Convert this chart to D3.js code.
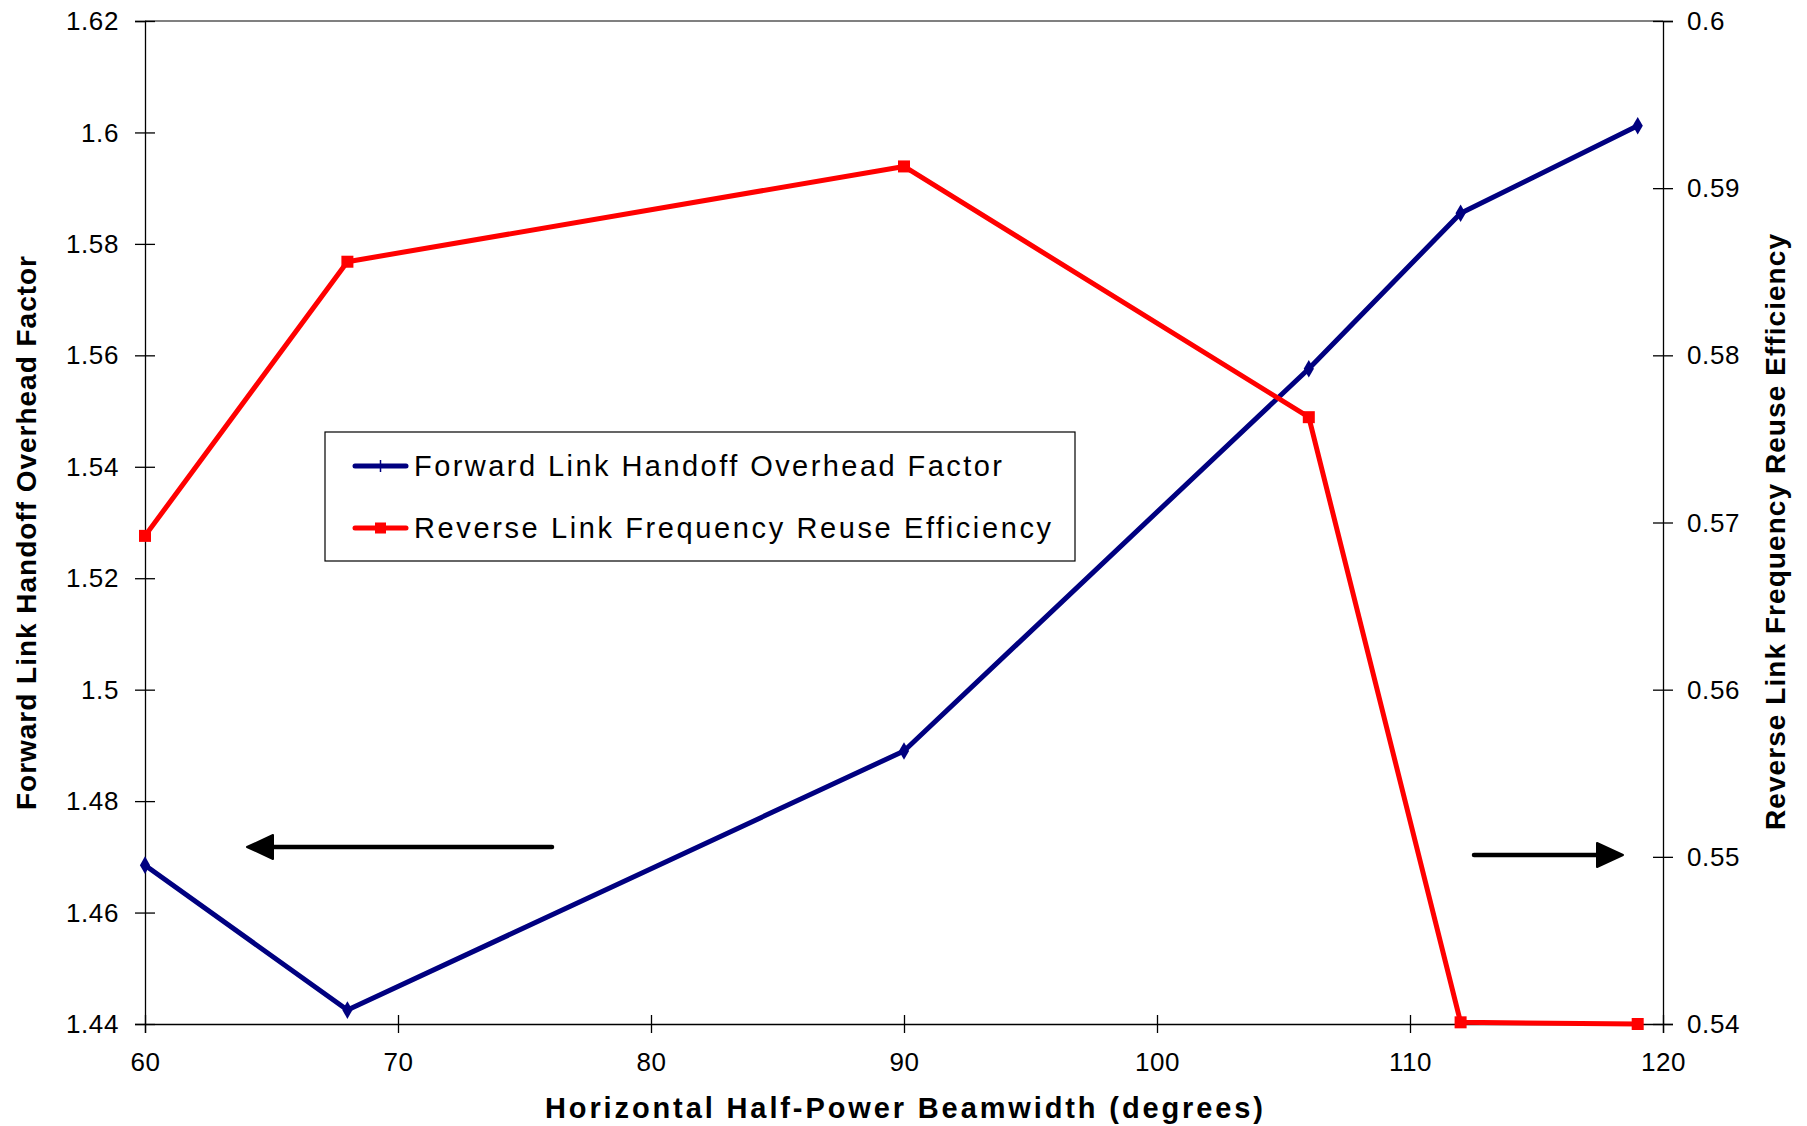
<!DOCTYPE html>
<html>
<head>
<meta charset="utf-8">
<script src="https://cdn.jsdelivr.net/npm/d3@7"></script>
<style>
  html, body { margin: 0; padding: 0; background: #fff; }
  svg text { font-family: "Liberation Sans", Arial, sans-serif; fill: #000; }
</style>
</head>
<body>
<svg id="chart" width="1807" height="1126"></svg>
<script>
// Beamwidth sweep (degrees)
const beamwidth = [60, 68, 90, 106, 112, 119];
// Forward link handoff overhead factor (left axis)
const forwardOverhead = [1.4685, 1.4425, 1.489, 1.5576, 1.5855, 1.6012];
// Reverse link frequency reuse efficiency (right axis)
const reverseEfficiency = [0.5692, 0.5856, 0.5913, 0.5763, 0.5401, 0.5400];

const xTicks = [60, 70, 80, 90, 100, 110, 120];
const leftTicks = [1.44, 1.46, 1.48, 1.5, 1.52, 1.54, 1.56, 1.58, 1.6, 1.62];
const rightTicks = [0.54, 0.55, 0.56, 0.57, 0.58, 0.59, 0.6];

const seriesNames = ["Forward Link Handoff Overhead Factor", "Reverse Link Frequency Reuse Efficiency"];
const xTitle = "Horizontal Half-Power Beamwidth (degrees)";
const leftTitle = "Forward Link Handoff Overhead Factor";
const rightTitle = "Reverse Link Frequency Reuse Efficiency";

const svg = d3.select("#chart");
const plot = { left: 145, right: 1663, top: 21, bottom: 1024 };

const x = d3.scaleLinear().domain([60, 120]).range([plot.left, plot.right]);
const yL = d3.scaleLinear().domain([1.44, 1.62]).range([plot.bottom, plot.top]);
const yR = d3.scaleLinear().domain([0.54, 0.6]).range([plot.bottom, plot.top]);

const fmt = d => String(+d.toFixed(2));
const FONT = "'Liberation Sans', Arial, sans-serif";

// plot frame top edge
svg.append("line")
  .attr("x1", plot.left).attr("x2", plot.right)
  .attr("y1", plot.top).attr("y2", plot.top)
  .attr("stroke", "#808080").attr("stroke-width", 2);

// left axis
const gL = svg.append("g").attr("transform", `translate(${plot.left},0)`)
  .call(d3.axisLeft(yL).tickValues(leftTicks).tickFormat(fmt).tickSize(10).tickPadding(16));
gL.selectAll(".tick line").attr("x1", 10);
gL.selectAll(".tick text").attr("font-size", 26).attr("dy", "0.33em")
  .style("font-family", FONT).attr("letter-spacing", 0.6);

// right axis
const gR = svg.append("g").attr("transform", `translate(${plot.right},0)`)
  .call(d3.axisRight(yR).tickValues(rightTicks).tickFormat(fmt).tickSize(10).tickPadding(14));
gR.selectAll(".tick line").attr("x1", -10);
gR.selectAll(".tick text").attr("font-size", 26).attr("dy", "0.33em")
  .style("font-family", FONT).attr("letter-spacing", 0.6);

// bottom axis
const gX = svg.append("g").attr("transform", `translate(0,${plot.bottom})`)
  .call(d3.axisBottom(x).tickValues(xTicks).tickFormat(d => d).tickSize(9).tickPadding(20));
gX.selectAll(".tick line").attr("y1", -9);
gX.selectAll(".tick text").attr("font-size", 26).attr("dy", "0.71em")
  .style("font-family", FONT).attr("letter-spacing", 0.6);

[gL, gR, gX].forEach(g => {
  g.select(".domain").attr("stroke", "#000").attr("stroke-width", 1.3);
  g.selectAll(".tick line").attr("stroke", "#000").attr("stroke-width", 1.3);
});

// axis titles
svg.append("text")
  .attr("x", 904).attr("y", 1118)
  .attr("text-anchor", "middle")
  .attr("font-size", 29).attr("font-weight", "bold")
  .attr("textLength", 718).attr("lengthAdjust", "spacing")
  .text(xTitle);

svg.append("text")
  .attr("transform", "translate(36,533) rotate(-90)")
  .attr("text-anchor", "middle")
  .attr("font-size", 28).attr("font-weight", "bold")
  .attr("textLength", 554).attr("lengthAdjust", "spacing")
  .text(leftTitle);

svg.append("text")
  .attr("transform", "translate(1785,532) rotate(-90)")
  .attr("text-anchor", "middle")
  .attr("font-size", 28).attr("font-weight", "bold")
  .attr("textLength", 596).attr("lengthAdjust", "spacing")
  .text(rightTitle);

// series lines
const fwdData = beamwidth.map((b, i) => [b, forwardOverhead[i]]);
const revData = beamwidth.map((b, i) => [b, reverseEfficiency[i]]);

svg.append("path")
  .datum(fwdData)
  .attr("fill", "none").attr("stroke", "#000080").attr("stroke-width", 5)
  .attr("stroke-linejoin", "round")
  .attr("d", d3.line().x(d => x(d[0])).y(d => yL(d[1])));

svg.append("path")
  .datum(revData)
  .attr("fill", "none").attr("stroke", "#ff0000").attr("stroke-width", 5)
  .attr("stroke-linejoin", "round")
  .attr("d", d3.line().x(d => x(d[0])).y(d => yR(d[1])));

// markers
svg.append("g").selectAll("path")
  .data(fwdData).join("path")
  .attr("transform", d => `translate(${x(d[0])},${yL(d[1])})`)
  .attr("d", d3.symbol(d3.symbolDiamond, 90))
  .attr("fill", "#000080");

svg.append("g").selectAll("rect")
  .data(revData).join("rect")
  .attr("x", d => x(d[0]) - 6).attr("y", d => yR(d[1]) - 6)
  .attr("width", 12).attr("height", 12)
  .attr("fill", "#ff0000");

// direction arrows pointing to each series' axis
function arrow(x1, x2, yv) {
  const dir = Math.sign(x2 - x1);
  const base = x2 - dir * 26;
  svg.append("line")
    .attr("x1", x1).attr("x2", base).attr("y1", yv).attr("y2", yv)
    .attr("stroke", "#000").attr("stroke-width", 4.5).attr("stroke-linecap", "round");
  svg.append("path")
    .attr("d", `M${x2},${yv} L${base},${yv - 12} L${base},${yv + 12} Z`)
    .attr("fill", "#000").attr("stroke", "#000").attr("stroke-width", 2)
    .attr("stroke-linejoin", "round");
}
arrow(552, 247, 847);
arrow(1474, 1623, 855);

// legend
const legend = svg.append("g");
legend.append("rect")
  .attr("x", 325).attr("y", 432).attr("width", 750).attr("height", 129)
  .attr("fill", "#fff").attr("stroke", "#000").attr("stroke-width", 1.2);

const rows = [
  { name: seriesNames[0], color: "#000080", y: 466, len: 588 },
  { name: seriesNames[1], color: "#ff0000", y: 528, len: 637 }
];
rows.forEach((r, i) => {
  legend.append("line")
    .attr("x1", 355).attr("x2", 406).attr("y1", r.y).attr("y2", r.y)
    .attr("stroke", r.color).attr("stroke-width", 5).attr("stroke-linecap", "round");
  if (i === 0) {
    legend.append("line")
      .attr("x1", 380.5).attr("x2", 380.5).attr("y1", r.y - 6).attr("y2", r.y + 6)
      .attr("stroke", r.color).attr("stroke-width", 1.5);
  } else {
    legend.append("rect")
      .attr("x", 375).attr("y", r.y - 5.5).attr("width", 11).attr("height", 11)
      .attr("fill", r.color);
  }
  legend.append("text")
    .attr("x", 414).attr("y", r.y + 10)
    .attr("font-size", 29)
    .attr("textLength", r.len).attr("lengthAdjust", "spacing")
    .text(r.name);
});
</script>
</body>
</html>
